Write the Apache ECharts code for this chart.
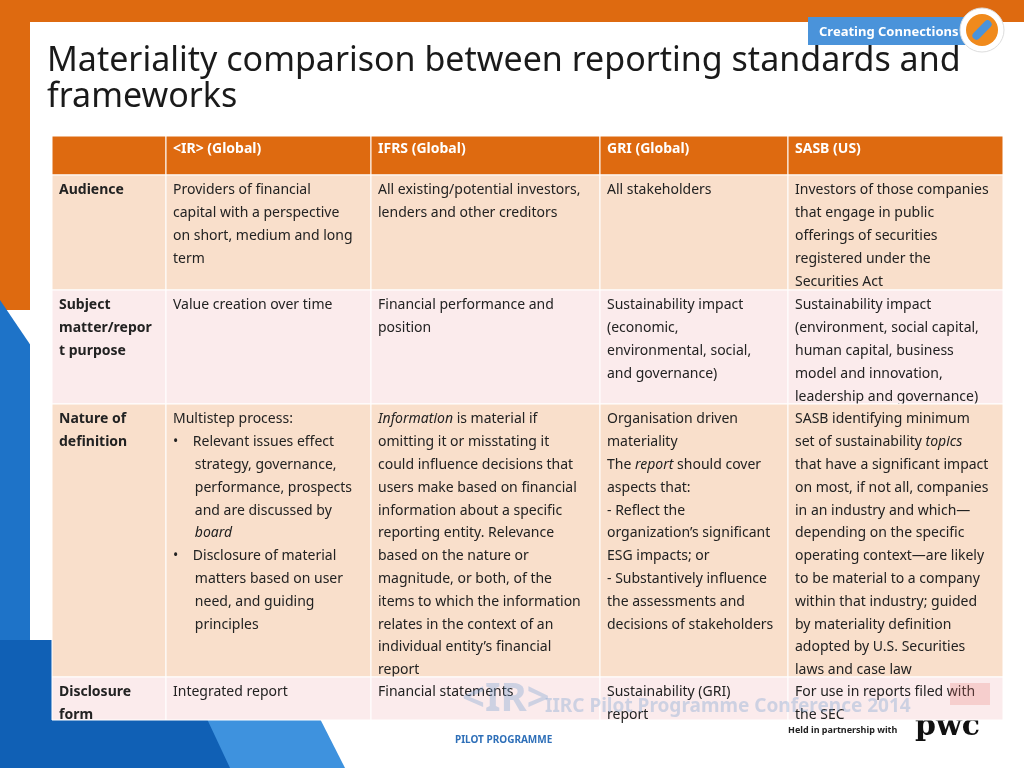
<!DOCTYPE html>
<html><head><meta charset="utf-8">
<script src="https://cdn.jsdelivr.net/npm/echarts@6/dist/echarts.min.js"></script>
<style>html,body{margin:0;padding:0;background:#fff}#c{width:1024px;height:768px}</style>
</head><body><div id="c"></div>
<script>
var headers = ['', '<IR> (Global)', 'IFRS (Global)', 'GRI (Global)', 'SASB (US)'];
var rowLabels = ['Audience', 'Subject\nmatter/repor\nt purpose', 'Nature of\ndefinition', 'Disclosure\nform'];
var cells = [
 ['Providers of financial\ncapital with a perspective\non short, medium and long\nterm',
  'All existing/potential investors,\nlenders and other creditors',
  'All stakeholders',
  'Investors of those companies\nthat engage in public\nofferings of securities\nregistered under the\nSecurities Act'],
 ['Value creation over time',
  'Financial performance and\nposition',
  'Sustainability impact\n(economic,\nenvironmental, social,\nand governance)',
  'Sustainability impact\n(environment, social capital,\nhuman capital, business\nmodel and innovation,\nleadership and governance)'],
 ['Multistep process:\n•    Relevant issues effect\n      strategy, governance,\n      performance, prospects\n      and are discussed by\n      {i|board}\n•    Disclosure of material\n      matters based on user\n      need, and guiding\n      principles',
  '{i|Information} is material if\nomitting it or misstating it\ncould influence decisions that\nusers make based on financial\ninformation about a specific\nreporting entity. Relevance\nbased on the nature or\nmagnitude, or both, of the\nitems to which the information\nrelates in the context of an\nindividual entity’s financial\nreport',
  'Organisation driven\nmateriality\nThe {i|report} should cover\naspects that:\n- Reflect the\norganization’s significant\nESG impacts; or\n- Substantively influence\nthe assessments and\ndecisions of stakeholders',
  'SASB identifying minimum\nset of sustainability {i|topics}\nthat have a significant impact\non most, if not all, companies\nin an industry and which—\ndepending on the specific\noperating context—are likely\nto be material to a company\nwithin that industry; guided\nby materiality definition\nadopted by U.S. Securities\nlaws and case law'],
 ['Integrated report', 'Financial statements', 'Sustainability (GRI)\nreport', 'For use in reports filed with\nthe SEC']
];
var colEdges = [52, 166, 371, 600, 788, 1003];
var rowEdges = [136, 175, 290, 404, 677, 720];
var rowFill = ['#F9DFCB', '#FBEBEC', '#F9DFCB', '#FBEBEC'];

var data = [];
for (var c = 0; c < 5; c++) data.push([c, 0, headers[c]]);
for (var r = 0; r < 4; r++) {
  data.push([0, r + 1, rowLabels[r]]);
  for (var c2 = 0; c2 < 4; c2++) data.push([c2 + 1, r + 1, cells[r][c2]]);
}

var chart = echarts.init(document.getElementById('c'));
var F = 'Noto Sans';
chart.setOption({
  animation: false,
  grid: {left: 0, right: 0, top: 0, bottom: 0},
  xAxis: {type: 'value', min: 0, max: 1024, show: false},
  yAxis: {type: 'value', min: 0, max: 768, inverse: true, show: false},
  graphic: [
    {type: 'rect', z: -10, shape: {x: 0, y: 0, width: 1024, height: 22}, style: {fill: '#DE6A10'}},
    {type: 'rect', z: -10, shape: {x: 0, y: 0, width: 30, height: 310}, style: {fill: '#DE6A10'}},
    {type: 'polygon', z: -10, shape: {points: [[0, 300], [230, 640], [0, 640]]}, style: {fill: '#1E73C8'}},
    {type: 'polygon', z: -10, shape: {points: [[0, 640], [280, 640], [345, 768], [0, 768]]}, style: {fill: '#3E92DE'}},
    {type: 'polygon', z: -10, shape: {points: [[0, 640], [170, 640], [230, 768], [0, 768]]}, style: {fill: '#1060B5'}},
    {type: 'rect', z: -9, shape: {x: 30, y: 22, width: 994, height: 618}, style: {fill: '#fff'}},
    {type: 'rect', shape: {x: 808, y: 17, width: 162, height: 28}, style: {fill: '#4A93DA'}},
    {type: 'text', x: 819, y: 32, style: {text: 'Creating Connections', fill: '#fff', font: 'bold 13px "Noto Sans"', verticalAlign: 'middle'}},
    {type: 'circle', shape: {cx: 982, cy: 30, r: 22}, style: {fill: '#fff', stroke: '#ddd'}},
    {type: 'circle', shape: {cx: 982, cy: 30, r: 16}, style: {fill: '#F08A1C'}},
    {type: 'rect', rotation: 0.8, x: 982, y: 30, shape: {x: -12, y: -4, width: 24, height: 8, r: 4}, style: {fill: '#4A93DA'}},
    {type: 'text', x: 47, y: 43, style: {text: 'Materiality comparison between reporting standards and\nframeworks', fill: '#1a1a1a', font: '34px "Noto Sans"', lineHeight: 36}},
    {type: 'text', z: 10, x: 545, y: 697, style: {text: 'IIRC Pilot Programme Conference 2014', fill: 'rgba(120,160,210,0.35)', font: 'bold 19px "Noto Sans"'}},
    {type: 'text', z: 10, x: 462, y: 680, style: {text: '<IR>', fill: 'rgba(120,160,210,0.35)', font: 'bold 40px "Noto Sans"'}},
    {type: 'text', x: 455, y: 735, style: {text: 'PILOT PROGRAMME', fill: '#2E6FB8', font: 'bold 10px "Noto Sans"'}},
    {type: 'text', x: 788, y: 726, style: {text: 'Held in partnership with', fill: '#222', font: 'bold 9px "Noto Sans"'}},
    {type: 'text', x: 915, y: 712, style: {text: 'pwc', fill: '#111', font: 'bold 30px "DejaVu Serif"'}},
    {type: 'rect', z: 10, shape: {x: 950, y: 683, width: 40, height: 22}, style: {fill: 'rgba(230,120,110,0.25)'}}
  ],
  series: [{
    type: 'custom',
    coordinateSystem: 'cartesian2d',
    data: data,
    encode: {x: 0, y: 1},
    renderItem: function (params, api) {
      var c = api.value(0), r = api.value(1);
      var item = data[params.dataIndex];
      var p0 = api.coord([colEdges[c], rowEdges[r]]);
      var p1 = api.coord([colEdges[c + 1], rowEdges[r + 1]]);
      var fill = r === 0 ? '#DE6A10' : rowFill[r - 1];
      var color = r === 0 ? '#fff' : '#222';
      var bold = r === 0 || c === 0;
      return {type: 'group', children: [
        {type: 'rect', shape: {x: p0[0], y: p0[1], width: p1[0] - p0[0], height: p1[1] - p0[1]},
         style: {fill: fill, stroke: '#fff', lineWidth: 1}},
        {type: 'text', x: p0[0] + 7, y: p0[1] + (r === 0 ? 2 : 4),
         style: {text: item[2], fill: color, fontFamily: F, fontSize: 14, lineHeight: 22.8,
           fontWeight: bold ? 'bold' : 'normal',
           rich: {i: {fontStyle: 'italic', fontFamily: F, fontSize: 14, fill: color, lineHeight: 22.8}}}}
      ]};
    }
  }]
});
</script></body></html>
